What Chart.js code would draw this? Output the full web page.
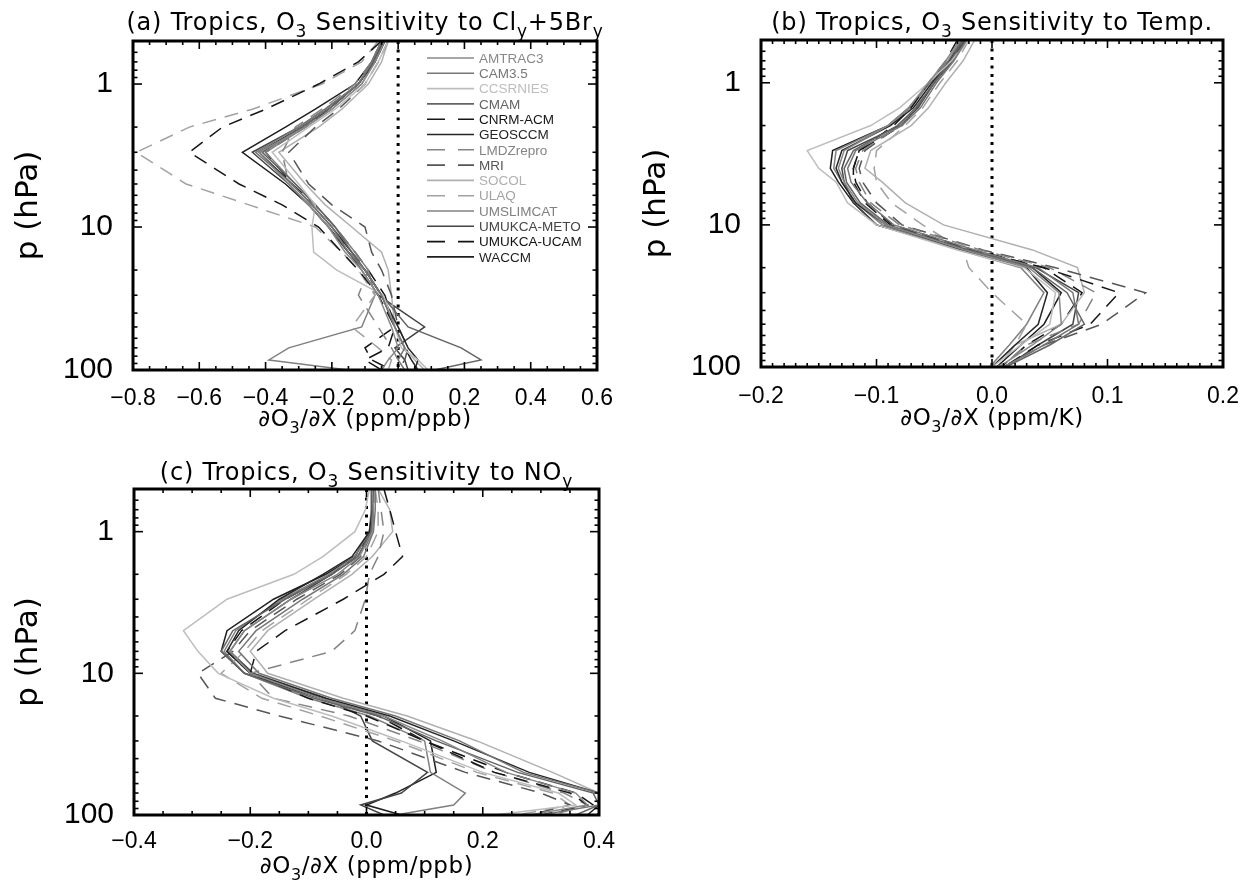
<!DOCTYPE html>
<html>
<head>
<meta charset="utf-8">
<title>Tropics O3 sensitivity</title>
<script src="https://cdn.jsdelivr.net/npm/chart.js@4.4.0/dist/chart.umd.min.js"></script>
<style>
  body { margin: 0; background: #fff; width: 1252px; height: 881px; position: relative; overflow: hidden; }
  canvas { position: absolute; }
</style>
</head>
<body>
<canvas id="chartA" width="620" height="440" style="left:0;top:0"></canvas>
<canvas id="chartB" width="624" height="440" style="left:628px;top:0"></canvas>
<canvas id="chartC" width="620" height="436" style="left:0;top:445px"></canvas>
<script>
// Pressure levels (hPa) of the profiles, one list per panel
const presClBr = [0.5, 0.7, 1, 1.5, 2, 3, 5, 7, 10, 15, 20, 30, 50, 70, 85, 100];
const presTemp = [0.5, 0.7, 1, 1.5, 2, 3, 4, 5, 7, 10, 15, 20, 30, 50, 70, 100];
const presNOy  = [0.5, 0.7, 1, 1.5, 2, 3, 5, 7, 10, 15, 20, 30, 50, 70, 85, 100];

const models = ['AMTRAC3', 'CAM3.5', 'CCSRNIES', 'CMAM', 'CNRM-ACM', 'GEOSCCM', 'LMDZrepro',
                'MRI', 'SOCOL', 'ULAQ', 'UMSLIMCAT', 'UMUKCA-METO', 'UMUKCA-UCAM', 'WACCM'];

// axis ticks
const pRange = [0.5, 100];
const pTicks = [1, 10, 100];
const xTicksClBr = [-0.8, -0.6, -0.4, -0.2, 0, 0.2, 0.4, 0.6];
const xTicksTemp = [-0.2, -0.1, 0, 0.1, 0.2];
const xTicksNOy  = [-0.4, -0.2, 0, 0.2, 0.4];

// (a) dO3/dX for Cly+5Bry (ppm/ppb)
const clbrAMTRAC3  = [-0.04, -0.07, -0.11, -0.20, -0.28, -0.42, -0.33, -0.27, -0.21, -0.16, -0.11, -0.06, -0.02, 0.00, -0.03, -0.05];
const clbrCAM35    = [-0.05, -0.08, -0.12, -0.22, -0.30, -0.43, -0.32, -0.26, -0.20, -0.15, -0.10, -0.05, -0.01, 0.02, 0.00, 0.02];
const clbrCCSRNIES = [-0.03, -0.06, -0.10, -0.19, -0.27, -0.38, -0.30, -0.25, -0.26, -0.255, -0.185, -0.045, -0.01, 0.01, 0.06, 0.09];
const clbrCMAM     = [-0.05, -0.075, -0.12, -0.21, -0.29, -0.41, -0.31, -0.25, -0.19, -0.14, -0.10, -0.05, 0.03, 0.19, 0.25, 0.11];
const clbrCNRM     = [-0.05, -0.12, -0.24, -0.40, -0.53, -0.63, -0.48, -0.35, -0.24, -0.17, -0.12, -0.06, -0.01, -0.03, -0.10, -0.05];
const clbrGEOSCCM  = [-0.04, -0.07, -0.12, -0.21, -0.29, -0.42, -0.32, -0.26, -0.20, -0.14, -0.10, -0.05, 0.00, 0.03, 0.06, 0.05];
const clbrLMDZ     = [-0.05, -0.08, -0.13, -0.23, -0.31, -0.35, -0.33, -0.27, -0.21, -0.14, -0.09, -0.12, -0.06, -0.02, 0.00, 0.01];
const clbrMRI      = [-0.03, -0.06, -0.10, -0.18, -0.25, -0.33, -0.27, -0.20, -0.10, -0.08, -0.05, -0.02, 0.00, 0.03, 0.02, 0.00];
const clbrSOCOL    = [-0.03, -0.05, -0.09, -0.17, -0.24, -0.36, -0.28, -0.22, -0.14, -0.05, -0.03, -0.02, -0.01, 0.02, 0.05, 0.08];
const clbrULAQ     = [-0.06, -0.11, -0.23, -0.44, -0.63, -0.79, -0.64, -0.45, -0.25, -0.17, -0.12, -0.07, -0.14, -0.06, -0.02, -0.03];
const clbrUMSLIM   = [-0.04, -0.07, -0.11, -0.20, -0.28, -0.40, -0.31, -0.25, -0.19, -0.13, -0.09, -0.07, -0.11, -0.33, -0.39, -0.15];
const clbrMETO     = [-0.045, -0.075, -0.12, -0.22, -0.30, -0.44, -0.33, -0.27, -0.21, -0.15, -0.11, -0.06, 0.08, -0.01, 0.02, 0.03];
const clbrUCAM     = [-0.04, -0.07, -0.12, -0.21, -0.28, -0.40, -0.32, -0.25, -0.19, -0.13, -0.09, -0.04, -0.01, -0.10, -0.08, -0.02];
const clbrWACCM    = [-0.05, -0.08, -0.13, -0.25, -0.34, -0.47, -0.34, -0.27, -0.21, -0.15, -0.10, -0.05, -0.01, 0.02, 0.04, 0.06];

// (b) dO3/dX for temperature (ppm/K)
const tempAMTRAC3  = [-0.028, -0.040, -0.055, -0.072, -0.090, -0.128, -0.133, -0.128, -0.116, -0.092, -0.024, 0.032, 0.058, 0.060, 0.035, 0.006];
const tempCAM35    = [-0.022, -0.033, -0.048, -0.062, -0.078, -0.118, -0.125, -0.122, -0.108, -0.085, -0.015, 0.040, 0.070, 0.075, 0.045, 0.010];
const tempCCSRNIES = [-0.020, -0.035, -0.055, -0.080, -0.105, -0.160, -0.150, -0.135, -0.125, -0.100, -0.030, 0.028, 0.055, 0.050, 0.025, 0.000];
const tempCMAM     = [-0.025, -0.036, -0.050, -0.066, -0.082, -0.120, -0.128, -0.126, -0.114, -0.090, -0.020, 0.035, 0.065, 0.080, 0.050, 0.012];
const tempCNRM     = [-0.030, -0.040, -0.055, -0.070, -0.085, -0.115, -0.120, -0.120, -0.110, -0.088, -0.018, 0.045, 0.110, 0.085, 0.040, 0.010];
const tempGEOSCCM  = [-0.025, -0.036, -0.052, -0.068, -0.088, -0.130, -0.135, -0.130, -0.118, -0.092, -0.025, 0.030, 0.048, 0.040, 0.020, 0.000];
const tempLMDZ     = [-0.026, -0.036, -0.050, -0.066, -0.080, -0.112, -0.118, -0.115, -0.105, -0.080, -0.010, 0.050, 0.090, 0.075, 0.030, 0.008];
const tempMRI      = [-0.024, -0.034, -0.050, -0.065, -0.080, -0.110, -0.115, -0.112, -0.100, -0.078, -0.008, 0.055, 0.133, 0.095, 0.045, 0.010];
const tempSOCOL    = [-0.015, -0.025, -0.040, -0.055, -0.070, -0.105, -0.110, -0.095, -0.075, -0.042, 0.035, 0.074, 0.080, 0.060, 0.020, 0.000];
const tempULAQ     = [-0.020, -0.030, -0.045, -0.060, -0.075, -0.100, -0.102, -0.100, -0.087, -0.060, -0.025, -0.020, 0.000, 0.030, 0.020, 0.005];
const tempUMSLIM   = [-0.027, -0.038, -0.054, -0.070, -0.090, -0.135, -0.137, -0.130, -0.118, -0.095, -0.028, 0.025, 0.045, 0.030, 0.015, -0.002];
const tempMETO     = [-0.023, -0.034, -0.050, -0.064, -0.080, -0.125, -0.130, -0.128, -0.120, -0.100, -0.022, 0.038, 0.075, 0.070, 0.040, 0.012];
const tempUCAM     = [-0.025, -0.035, -0.050, -0.065, -0.078, -0.115, -0.120, -0.118, -0.108, -0.086, -0.016, 0.045, 0.078, 0.060, 0.030, 0.008];
const tempWACCM    = [-0.026, -0.037, -0.054, -0.072, -0.090, -0.138, -0.140, -0.133, -0.120, -0.100, -0.025, 0.035, 0.060, 0.045, 0.025, 0.004];

// (c) dO3/dX for NOy (ppm/ppb)
const noyAMTRAC3  = [0.010, 0.012, 0.010, -0.012, -0.050, -0.130, -0.210, -0.235, -0.200, -0.080, 0.030, 0.130, 0.240, 0.360, 0.380, 0.280];
const noyCAM35    = [0.015, 0.015, 0.012, -0.005, -0.040, -0.110, -0.190, -0.220, -0.185, -0.060, 0.050, 0.160, 0.270, 0.400, 0.400, 0.300];
const noyCCSRNIES = [0.005, -0.002, -0.020, -0.075, -0.125, -0.240, -0.315, -0.290, -0.255, -0.160, -0.060, 0.060, 0.200, 0.330, 0.360, 0.220];
const noyCMAM     = [0.010, 0.010, 0.008, -0.015, -0.060, -0.140, -0.230, -0.250, -0.210, -0.090, 0.020, 0.120, 0.260, 0.390, 0.400, 0.360];
const noyCNRM     = [0.030, 0.040, 0.050, 0.062, 0.030, -0.040, -0.140, -0.190, -0.200, -0.100, 0.000, 0.100, 0.220, 0.350, 0.380, 0.300];
const noyGEOSCCM  = [0.010, 0.010, 0.005, -0.025, -0.075, -0.150, -0.220, -0.240, -0.200, -0.070, 0.040, 0.150, 0.280, 0.400, 0.400, 0.380];
const noyLMDZ     = [0.020, 0.025, 0.030, 0.020, 0.005, -0.002, -0.020, -0.060, -0.200, -0.160, -0.030, 0.090, 0.220, 0.340, 0.380, 0.320];
const noyMRI      = [0.012, 0.012, 0.010, -0.010, -0.045, -0.120, -0.200, -0.230, -0.290, -0.260, -0.150, 0.020, 0.170, 0.300, 0.350, 0.280];
const noySOCOL    = [0.020, 0.040, 0.045, 0.010, -0.025, -0.090, -0.170, -0.200, -0.170, -0.040, 0.070, 0.190, 0.320, 0.400, 0.400, 0.400];
const noyULAQ     = [0.015, 0.020, 0.020, 0.000, -0.035, -0.100, -0.180, -0.210, -0.250, -0.180, -0.080, 0.050, 0.190, 0.320, 0.350, 0.260];
const noyUMSLIM   = [0.008, 0.008, 0.005, -0.020, -0.065, -0.145, -0.225, -0.245, -0.210, -0.100, 0.005, 0.100, 0.110, 0.170, 0.150, 0.050];
const noyMETO     = [0.010, 0.010, 0.008, -0.015, -0.060, -0.130, -0.210, -0.235, -0.195, -0.070, -0.010, 0.010, 0.105, 0.060, -0.010, 0.030];
const noyUCAM     = [0.012, 0.012, 0.010, -0.020, -0.060, -0.140, -0.215, -0.240, -0.200, -0.080, 0.020, 0.100, 0.240, 0.360, 0.390, 0.400];
const noyWACCM    = [0.010, 0.010, 0.005, -0.020, -0.070, -0.160, -0.240, -0.250, -0.210, -0.080, 0.030, 0.110, 0.120, 0.050, 0.000, 0.060];

const clbrSeries = [clbrAMTRAC3, clbrCAM35, clbrCCSRNIES, clbrCMAM, clbrCNRM, clbrGEOSCCM, clbrLMDZ,
                    clbrMRI, clbrSOCOL, clbrULAQ, clbrUMSLIM, clbrMETO, clbrUCAM, clbrWACCM];
const tempSeries = [tempAMTRAC3, tempCAM35, tempCCSRNIES, tempCMAM, tempCNRM, tempGEOSCCM, tempLMDZ,
                    tempMRI, tempSOCOL, tempULAQ, tempUMSLIM, tempMETO, tempUCAM, tempWACCM];
const noySeries  = [noyAMTRAC3, noyCAM35, noyCCSRNIES, noyCMAM, noyCNRM, noyGEOSCCM, noyLMDZ,
                    noyMRI, noySOCOL, noyULAQ, noyUMSLIM, noyMETO, noyUCAM, noyWACCM];

// line styles per model
const modelColors = ['#888888', '#777777', '#bdbdbd', '#646464', '#161616', '#262626', '#848484',
                     '#565656', '#b0b0b0', '#a2a2a2', '#808080', '#444444', '#121212', '#1e1e1e'];
const modelDashed = [false, false, false, false, true, false, true,
                     true, false, true, false, false, true, false];

Chart.defaults.font.family = '"Liberation Sans", Arial, sans-serif';
Chart.defaults.color = '#000';

function fmtX(v) {
  if (Math.abs(v) < 1e-9) return '0.0';
  return (v < 0 ? '\u2212' : '') + Math.abs(v).toFixed(1);
}

// text with subscripts, centred on cx
function drawParts(ctx, parts, cx, baseline, size, spacing) {
  ctx.save();
  ctx.fillStyle = '#000';
  ctx.textBaseline = 'alphabetic';
  ctx.textAlign = 'left';
  ctx.letterSpacing = spacing + 'px';
  const fonts = [size + 'px "DejaVu Sans"', Math.round(size * 0.7) + 'px "DejaVu Sans"'];
  let w = 0;
  parts.forEach(p => { ctx.font = fonts[p[1]]; w += ctx.measureText(p[0]).width; });
  let x = cx - w / 2;
  parts.forEach(p => {
    ctx.font = fonts[p[1]];
    ctx.fillText(p[0], x, baseline + p[1] * size * 0.3);
    x += ctx.measureText(p[0]).width;
  });
  ctx.restore();
}

// inward ticks on all four sides and the box
function frameTicks(o) {
  return {
    id: 'frameTicks',
    afterDatasetsDraw(chart) {
      const { ctx, chartArea: a, scales: { x, y } } = chart;
      ctx.save();
      ctx.strokeStyle = '#000';
      ctx.lineWidth = 1.6;
      const seg = (x1, y1, x2, y2) => { ctx.beginPath(); ctx.moveTo(x1, y1); ctx.lineTo(x2, y2); ctx.stroke(); };
      const n = Math.round((x.max - x.min) / o.xMinor);
      for (let i = 0; i <= n; i++) {
        const v = x.min + i * o.xMinor;
        const r = v / o.xMajor;
        const len = Math.abs(r - Math.round(r)) < 1e-6 ? 8 : 4;
        const px = x.getPixelForValue(v);
        seg(px, a.bottom, px, a.bottom - len);
        seg(px, a.top, px, a.top + len);
      }
      [0.1, 1, 10].forEach(dec => {
        for (let k = 1; k <= 9; k++) {
          const v = dec * k;
          if (v < y.min - 1e-9 || v > y.max + 1e-9) continue;
          const len = k === 1 ? 9 : 4.5;
          const py = y.getPixelForValue(v);
          seg(a.left, py, a.left + len, py);
          seg(a.right, py, a.right - len, py);
        }
      });
      const py = y.getPixelForValue(100);
      seg(a.left, py, a.left + 9, py);
      seg(a.right, py, a.right - 9, py);
      ctx.lineWidth = 3;
      ctx.strokeRect(a.left, a.top, a.right - a.left, a.bottom - a.top);
      ctx.restore();
    }
  };
}

function panelText(o) {
  return {
    id: 'panelText',
    afterDraw(chart) {
      const a = chart.chartArea;
      const cx = (a.left + a.right) / 2;
      drawParts(chart.ctx, o.title, cx, o.titleY, 24, 0.8);
      drawParts(chart.ctx, o.xTitle, cx, o.xTitleY, 23, 0.6);
    }
  };
}

// model key drawn inside the plot of panel (a)
function modelKey(o) {
  return {
    id: 'modelKey',
    afterDatasetsDraw(chart) {
      if (!o.legend) return;
      const ctx = chart.ctx;
      const k = o.legend;
      ctx.save();
      ctx.font = '13.5px "Liberation Sans"';
      ctx.textBaseline = 'middle';
      chart.data.datasets.forEach((ds, i) => {
        if (i >= models.length) return;
        const y = k.y0 + i * k.dy;
        ctx.strokeStyle = ds.borderColor;
        ctx.lineWidth = 1.6;
        ctx.setLineDash(modelDashed[i] ? [18, 13] : []);
        ctx.beginPath(); ctx.moveTo(k.x0, y); ctx.lineTo(k.x1, y); ctx.stroke();
        ctx.setLineDash([]);
        ctx.fillStyle = ds.borderColor;
        ctx.fillText(ds.label, k.x1 + 5, y + 1);
      });
      ctx.restore();
    }
  };
}

function makePanel(id, o) {
  const datasets = models.map((name, i) => ({
    label: name,
    data: o.pres.map((p, k) => ({ x: o.series[i][k], y: p })),
    borderColor: modelColors[i],
    borderWidth: 1.5,
    borderDash: modelDashed[i] ? [14, 9] : [],
    pointRadius: 0,
    showLine: true,
    tension: 0
  }));
  datasets.push({
    label: 'zero',
    data: [{ x: 0, y: pRange[0] }, { x: 0, y: pRange[1] }],
    borderColor: '#000',
    borderWidth: 3,
    borderDash: [3, 5.5],
    pointRadius: 0,
    showLine: true
  });

  return new Chart(document.getElementById(id), {
    type: 'scatter',
    data: { datasets },
    options: {
      responsive: false,
      animation: false,
      layout: { padding: { top: o.top, right: o.right, left: 0, bottom: 0 } },
      plugins: { legend: { display: false }, tooltip: { enabled: false } },
      scales: {
        x: {
          type: 'linear',
          min: o.xTicks[0],
          max: o.xTicks[o.xTicks.length - 1],
          afterBuildTicks: s => { s.ticks = o.xTicks.map(v => ({ value: v })); },
          afterFit: s => { s.height = o.xAxisH; },
          grid: { display: false },
          border: { display: false },
          ticks: { padding: o.xPad, maxRotation: 0, autoSkip: false, font: { size: 23 }, callback: v => fmtX(v) }
        },
        y: {
          type: 'logarithmic',
          reverse: true,
          min: pRange[0],
          max: pRange[1],
          afterBuildTicks: s => { s.ticks = pTicks.map(v => ({ value: v })); },
          afterFit: s => { s.width = o.yAxisW; },
          grid: { display: false },
          border: { display: false },
          ticks: { padding: 12, autoSkip: false, font: { size: 30 }, callback: v => String(v) },
          title: {
            display: true, text: 'p (hPa)',
            font: { family: '"DejaVu Sans"', size: 31, lineHeight: 1 },
            padding: { top: 13, bottom: 0 }
          }
        }
      }
    },
    plugins: [frameTicks(o), panelText(o), modelKey(o)]
  });
}

makePanel('chartA', {
  pres: presClBr, series: clbrSeries, xTicks: xTicksClBr, xMinor: 0.05, xMajor: 0.2,
  top: 41, right: 23, yAxisW: 133, xAxisH: 70, xPad: 7, titleY: 30, xTitleY: 426,
  title: [['(a) Tropics, O', 0], ['3', 1], [' Sensitivity to Cl', 0], ['y', 1], ['+5Br', 0], ['y', 1]],
  xTitle: [['\u2202O', 0], ['3', 1], ['/\u2202X (ppm/ppb)', 0]],
  legend: { x0: 427, x1: 474, y0: 58, dy: 15.3 }
});

makePanel('chartB', {
  pres: presTemp, series: tempSeries, xTicks: xTicksTemp, xMinor: 0.01, xMajor: 0.1,
  top: 40, right: 29, yAxisW: 133, xAxisH: 73, xPad: 8, titleY: 30, xTitleY: 425,
  title: [['(b) Tropics, O', 0], ['3', 1], [' Sensitivity to Temp.', 0]],
  xTitle: [['\u2202O', 0], ['3', 1], ['/\u2202X (ppm/K)', 0]]
});

makePanel('chartC', {
  pres: presNOy, series: noySeries, xTicks: xTicksNOy, xMinor: 0.05, xMajor: 0.2,
  top: 44, right: 20, yAxisW: 134, xAxisH: 66, xPad: 5, titleY: 35, xTitleY: 428,
  title: [['(c) Tropics, O', 0], ['3', 1], [' Sensitivity to NO', 0], ['y', 1]],
  xTitle: [['\u2202O', 0], ['3', 1], ['/\u2202X (ppm/ppb)', 0]]
});
</script>
</body>
</html>
